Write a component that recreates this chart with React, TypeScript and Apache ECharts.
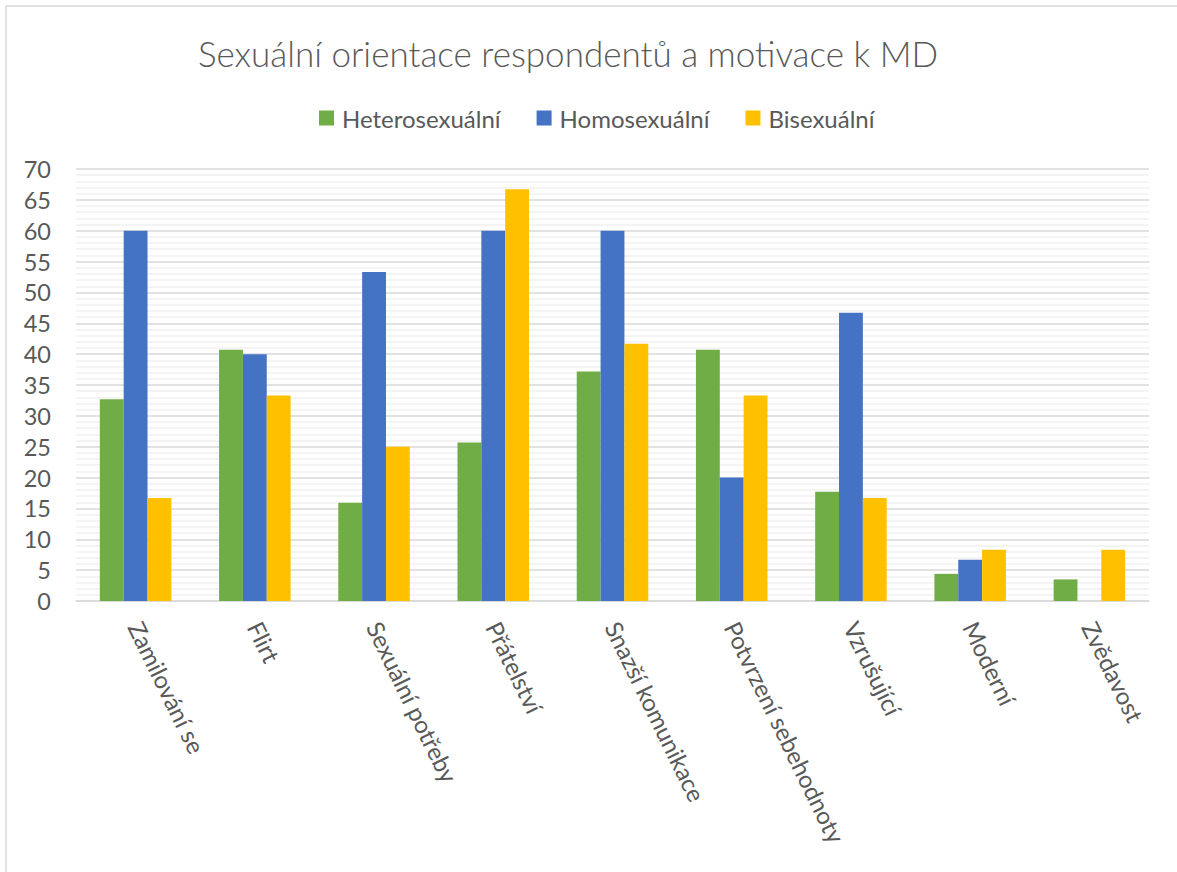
import React, { useEffect, useRef } from "react";
import * as echarts from "echarts";

const categories = [
  "Zamilování se",
  "Flirt",
  "Sexuální potřeby",
  "Přátelství",
  "Snazší komunikace",
  "Potvrzení sebehodnoty",
  "Vzrušující",
  "Moderní",
  "Zvědavost",
];

const heterosexualni = [32.7, 40.7, 15.9, 25.7, 37.2, 40.7, 17.7, 4.4, 3.5];
const homosexualni = [60, 40, 53.3, 60, 60, 20, 46.7, 6.7, 0];
const bisexualni = [16.7, 33.3, 25, 66.7, 41.7, 33.3, 16.7, 8.3, 8.3];

const seriesNames = ["Heterosexuální", "Homosexuální", "Bisexuální"];
const seriesColors = ["#70ad47", "#4472c4", "#ffc000"];

const FONT = "Lato, 'Open Sans', sans-serif";
const TEXT_COLOR = "#595959";

export default function App() {
  const ref = useRef<HTMLDivElement>(null);

  useEffect(() => {
    document.body.style.margin = "0";
    if (!ref.current) return;
    const chart = echarts.init(ref.current, undefined, { renderer: "svg" });
    const values = [heterosexualni, homosexualni, bisexualni];

    chart.setOption({
      animation: false,
      backgroundColor: "#ffffff",
      textStyle: { fontFamily: FONT, color: TEXT_COLOR },
      graphic: [
        {
          type: "rect",
          shape: { x: 6, y: 6, width: 1300, height: 1000 },
          style: { fill: "none", stroke: "#d9d9d9", lineWidth: 1.5 },
          silent: true,
          z: -10,
        },
      ],
      title: {
        text: "Sexuální orientace respondentů a motivace k MD",
        left: 563,
        top: 30,
        textAlign: "center",
        textStyle: {
          fontFamily: FONT,
          fontWeight: 300,
          fontSize: 35,
          color: TEXT_COLOR,
        },
      },
      legend: {
        data: seriesNames,
        left: 314,
        top: 101,
        icon: "rect",
        itemWidth: 15,
        itemHeight: 15,
        itemGap: 36,
        textStyle: { fontFamily: FONT, fontSize: 24, color: TEXT_COLOR, padding: [0, 0, 0, 3] },
      },
      grid: { left: 76, right: 28, top: 169, bottom: 271, containLabel: false },
      xAxis: {
        type: "category",
        data: categories,
        axisLine: { lineStyle: { color: "#d9d9d9", width: 1.5 } },
        axisTick: { show: false },
        axisLabel: {
          rotate: -64,
          interval: 0,
          margin: 22,
          fontFamily: FONT,
          fontSize: 24,
          color: TEXT_COLOR,
        },
      },
      yAxis: {
        type: "value",
        min: 0,
        max: 70,
        interval: 5,
        axisLine: { show: false },
        axisTick: { show: false },
        axisLabel: { fontFamily: FONT, fontSize: 23.5, color: TEXT_COLOR, margin: 25 },
        splitLine: { lineStyle: { color: "#d9d9d9", width: 1.5 } },
        minorTick: { show: false, splitNumber: 5 },
        minorSplitLine: { show: true, lineStyle: { color: "#f0f0f0", width: 1.5 } },
      },
      series: seriesNames.map((name, i) => ({
        name,
        type: "bar",
        data: values[i],
        barGap: "0%",
        barCategoryGap: "40%",
        itemStyle: { color: seriesColors[i] },
      })),
    });

    return () => chart.dispose();
  }, []);

  return <div ref={ref} style={{ width: 1177, height: 872 }} />;
}
